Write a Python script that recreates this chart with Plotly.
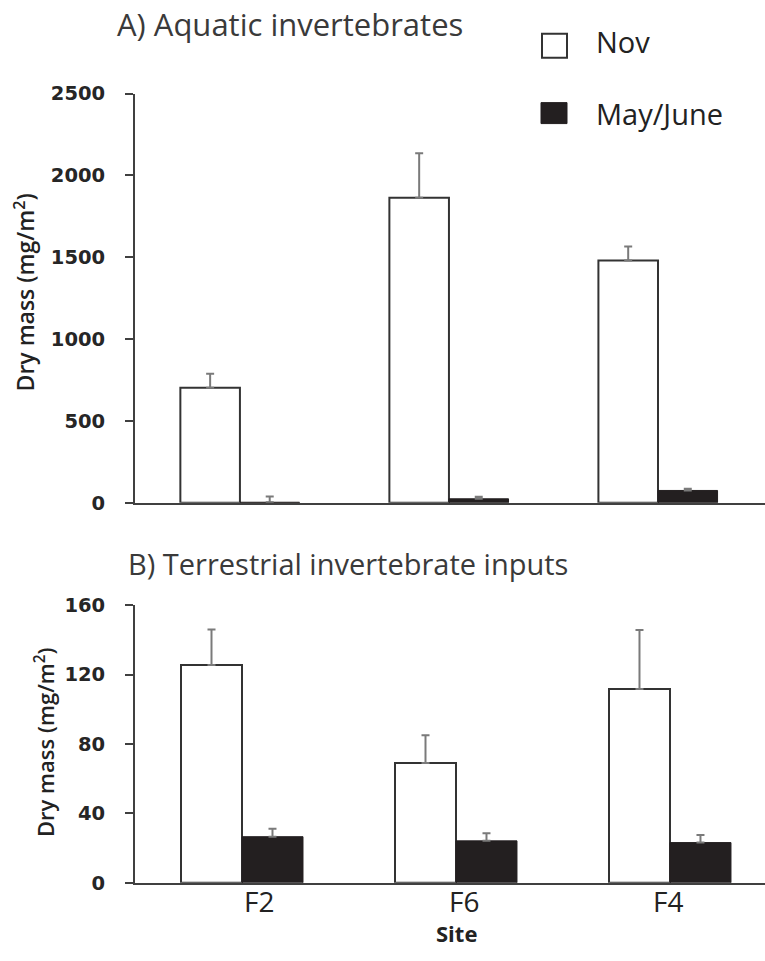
import plotly.graph_objects as go

sites = ["F2", "F6", "F4"]
aq_nov = [702, 1863, 1480]
aq_nov_se = [86, 273, 86]
aq_may = [3, 24, 75]
aq_may_se = [35, 12, 10]
te_nov = [125.5, 69, 111.7]
te_nov_se = [20.5, 16, 34]
te_may = [26.6, 24.2, 23.2]
te_may_se = [4.6, 4.4, 4.4]

site_label_shift = [17, 8, -2]

W, H = 765, 961
def px(x): return x / W
def py(y): return 1 - ((y - 10.3) / 0.977) / H

NOV_LINE = "#333333"
MAY_FILL = "#231f20"
ERR = "#7a7a7a"
AX = "#404040"

fig = go.Figure()

def add(xa, ya, nov, nov_se, may, may_se):
    fig.add_trace(go.Bar(x=sites, y=nov, xaxis=xa, yaxis=ya, name="Nov",
                         marker=dict(color="white", line=dict(color=NOV_LINE, width=2)),
                         error_y=dict(type="data", array=nov_se, arrayminus=[0]*3, symmetric=False,
                                      color=ERR, thickness=2, width=4),
                         showlegend=False))
    fig.add_trace(go.Bar(x=sites, y=may, xaxis=xa, yaxis=ya, name="May/June",
                         marker=dict(color=MAY_FILL, line=dict(color=MAY_FILL, width=1)),
                         error_y=dict(type="data", array=may_se, arrayminus=[0]*3, symmetric=False,
                                      color=ERR, thickness=2, width=4),
                         showlegend=False))

add("x", "y", aq_nov, aq_nov_se, aq_may, aq_may_se)
add("x2", "y2", te_nov, te_nov_se, te_may, te_may_se)

tickfont = dict(family="DejaVu Sans", size=19.5, color="#262626", weight="bold")
xdom = [135 / W, 1]

fig.update_layout(
    width=W, height=H, margin=dict(l=0, r=0, t=0, b=0),
    paper_bgcolor="white", plot_bgcolor="white",
    barmode="group", bargap=0.43, bargroupgap=0,
    xaxis=dict(domain=xdom, anchor="y", range=[-0.502, 2.512], showline=True, linecolor=AX,
               linewidth=2, showticklabels=False, ticks="", showgrid=False, zeroline=False),
    yaxis=dict(domain=[py(502.5), py(93)], anchor="x", range=[0, 2500], tickvals=[0, 500, 1000, 1500, 2000, 2500],
               showline=True, linecolor=AX, linewidth=2, ticks="outside", ticklen=8, tickwidth=2,
               tickcolor=AX, tickfont=tickfont, ticklabelstandoff=16, showgrid=False, zeroline=False),
    xaxis2=dict(domain=xdom, anchor="y2", range=[-0.5, 2.444], showline=True, linecolor=AX,
                linewidth=2, ticks="", showgrid=False, zeroline=False, showticklabels=False),
    yaxis2=dict(domain=[py(883), py(605)], anchor="x2", range=[0, 160], tickvals=[0, 40, 80, 120, 160],
                showline=True, linecolor=AX, linewidth=2, ticks="outside", ticklen=8, tickwidth=2,
                tickcolor=AX, tickfont=tickfont, ticklabelstandoff=16, showgrid=False, zeroline=False),
    font=dict(family="Open Sans", color="#222222"),
)

ann = []
ann.append(dict(text="A) Aquatic invertebrates", x=px(115), y=py(23), xanchor="left", yanchor="middle",
                font=dict(family="Open Sans", size=31, color="#3a3a3a")))
ann.append(dict(text="B) Terrestrial invertebrate inputs", x=px(126), y=py(563), xanchor="left", yanchor="middle",
                font=dict(family="Open Sans", size=29, color="#3a3a3a")))
ann.append(dict(text="Dry mass (mg/m<sup>2</sup>)", x=px(25), y=py(292), xanchor="center", yanchor="middle",
                textangle=-90, font=dict(family="Open Sans", size=23, color="#222222", weight=600)))
ann.append(dict(text="Dry mass (mg/m<sup>2</sup>)", x=px(44), y=py(742), xanchor="center", yanchor="middle",
                textangle=-90, font=dict(family="Open Sans", size=22, color="#222222", weight=600)))
ann.append(dict(text="Site", x=px(456), y=0, xanchor="center", yanchor="bottom", borderpad=0,
                font=dict(family="Open Sans", size=22, color="#222222", weight="bold")))
ann.append(dict(text="Nov", x=px(594), y=py(41), xanchor="left", yanchor="middle",
                font=dict(family="Open Sans", size=29, color="#222222")))
ann.append(dict(text="May/June", x=px(594), y=py(113), xanchor="left", yanchor="middle",
                font=dict(family="Open Sans", size=29, color="#222222")))
for a in ann:
    a.update(xref="paper", yref="paper", showarrow=False)
for s, sh in zip(sites, site_label_shift):
    ann.append(dict(text=s, x=s, xref="x2", y=py(901), yref="paper", xanchor="center", yanchor="middle",
                    xshift=sh, borderpad=0, showarrow=False,
                    font=dict(family="Open Sans", size=28, color="#222222")))
fig.update_layout(annotations=ann)

fig.add_shape(type="rect", xref="paper", yref="paper", x0=px(542), x1=px(567), y0=py(57), y1=py(33),
              line=dict(color=NOV_LINE, width=2), fillcolor="white")
fig.add_shape(type="rect", xref="paper", yref="paper", x0=px(541), x1=px(567), y0=py(123), y1=py(102),
              line=dict(color=MAY_FILL, width=1), fillcolor=MAY_FILL)

fig.write_html("out.html")
